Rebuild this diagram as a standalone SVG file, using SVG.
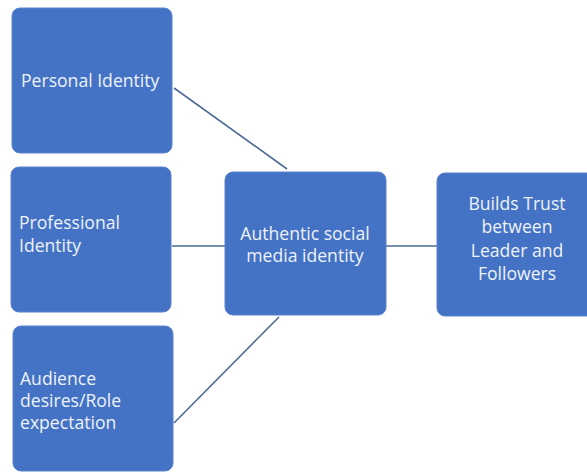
<svg xmlns="http://www.w3.org/2000/svg" width="587" height="472" viewBox="0 0 587 472">
  <style>
    .box { fill: #4472c4; stroke: #5a82cc; stroke-width: 1; }
    .lbl { font-family: "Open Sans", "Liberation Sans", sans-serif; font-size: 17.6px; fill: #eef2fa; }
    .mid { text-anchor: middle; }
    .conn { stroke: #4d6a96; stroke-width: 1.6; fill: none; }
  </style>
  <rect width="587" height="472" fill="#ffffff"/>
  <g id="connectors">
    <line class="conn" x1="174" y1="88" x2="287" y2="169"/>
    <line class="conn" x1="172" y1="246" x2="225" y2="246"/>
    <line class="conn" x1="174" y1="423" x2="279" y2="317"/>
    <line class="conn" x1="386" y1="246" x2="437" y2="246"/>
  </g>
  <g id="personal-identity">
    <rect class="box" x="12" y="8" width="160" height="145" rx="8"/>
    <text class="lbl" x="21" y="87">Personal Identity</text>
  </g>
  <g id="professional-identity">
    <rect class="box" x="11" y="167" width="160" height="145" rx="8"/>
    <text class="lbl" x="19" y="229">Professional</text>
    <text class="lbl" x="19" y="252">Identity</text>
  </g>
  <g id="audience-desires">
    <rect class="box" x="13" y="326" width="160" height="145" rx="8"/>
    <text class="lbl" x="20" y="385">Audience</text>
    <text class="lbl" x="20" y="407">desires/Role</text>
    <text class="lbl" x="20" y="429">expectation</text>
  </g>
  <g id="authentic-identity">
    <rect class="box" x="225" y="172" width="161" height="143" rx="8"/>
    <text class="lbl mid" x="305" y="240">Authentic social</text>
    <text class="lbl mid" x="305" y="262">media identity</text>
  </g>
  <g id="builds-trust">
    <rect class="box" x="437" y="173" width="160" height="143" rx="8"/>
    <text class="lbl mid" x="517" y="210">Builds Trust</text>
    <text class="lbl mid" x="517" y="233">between</text>
    <text class="lbl mid" x="517" y="257">Leader and</text>
    <text class="lbl mid" x="517" y="280">Followers</text>
  </g>
</svg>
